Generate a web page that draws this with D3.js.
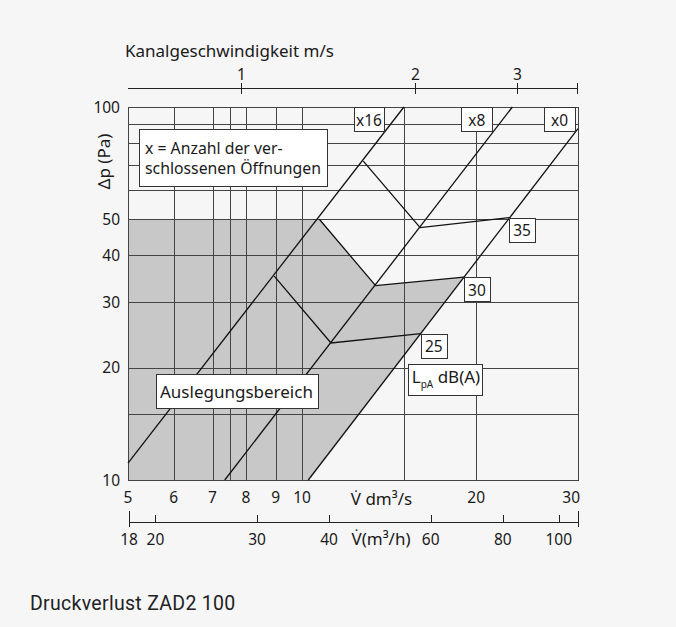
<!DOCTYPE html>
<html><head><meta charset="utf-8">
<script src="https://cdn.jsdelivr.net/npm/d3@7"></script>
<style>
html,body{margin:0;padding:0;background:#f6f6f6;}
svg{display:block;}
text{font-family:"Noto Sans",sans-serif;fill:#1a1a1a;}
</style></head><body>
<svg id="c" width="676" height="627"></svg>
<script>
// ---- data ----
const flowTicks = [5,6,7,8,9,10,20,30];            // dm³/s labels
const flowGrid = [6,7,7.5,8,9,10,15,20,30];         // vertical grid lines
const pressureTicks = [10,20,30,40,50,100];         // Pa labels
const pressureGrid = [15,20,30,40,50,60,70,80,90,100];
const velocityTicks = [1,2,3];                      // m/s
const hourlyTicks = [18,20,30,40,60,80,100];        // m³/h
const curveNames = ["x16","x8","x0"];
const curveX16 = [[5,11.1],[15.0,100]];
const curveX8 = [[7.35,10],[23.1,100]];
const curveX0 = [[10.25,10],[30,87.5]];
const soundNames = ["35","30","25"];
const sound35 = [[12.76,71.6],[16.0,47.5],[22.8,50.5]];
const sound30 = [[10.71,50],[13.4,33.2],[19.05,35.0]];
const sound25 = [[8.95,35.2],[11.22,23.3],[16.04,24.7]];
const designArea = [[5,10],[5,50],[10.71,50],[13.4,33.2],[19.05,35.0],[10.25,10]];
const ductFactor = 7.854; // dm³/s per m/s for DN100

(function(){
// ---- layout ----
const L=128, R=578, T=107, B=480;
const svg = d3.select("#c");
const x = d3.scaleLog().domain([5,30]).range([L,R]);
const y = d3.scaleLog().domain([10,100]).range([B,T]);
const xv = d3.scaleLog().domain([5/ductFactor,30/ductFactor]).range([L,R]);
const xh = d3.scaleLog().domain([18,108]).range([L+1,R]);
const line = d3.line().x(d=>x(d[0])).y(d=>y(d[1]));
const px = v => Math.round(v)+0.5;

svg.append("rect").attr("width",676).attr("height",627).attr("fill","#f6f6f6");

// shaded design area
svg.append("path").attr("d", line(designArea)+"Z").attr("fill","#c8c8c8");

// grid
const g = svg.append("g").attr("stroke","#444").attr("stroke-width",1);
g.selectAll(".vg").data(flowGrid).join("line")
  .attr("x1",d=>px(x(d))).attr("x2",d=>px(x(d))).attr("y1",T).attr("y2",B);
g.selectAll(".hg").data(pressureGrid).join("line")
  .attr("y1",d=>px(y(d))).attr("y2",d=>px(y(d))).attr("x1",L).attr("x2",R);
g.append("rect").attr("x",px(L)).attr("y",px(T)).attr("width",R-L).attr("height",B-T).attr("fill","none");

// curves
const curves = [curveX16, curveX8, curveX0];
svg.append("g").selectAll("path").data(curves).join("path")
  .attr("d",line).attr("fill","none").attr("stroke","#111").attr("stroke-width",1.3);
const sounds = [sound35, sound30, sound25];
svg.append("g").selectAll("path").data(sounds).join("path")
  .attr("d",line).attr("fill","none").attr("stroke","#111").attr("stroke-width",1.3);

// helper: label box
function box(x0,y0,w,h){
  svg.append("rect").attr("x",px(x0)).attr("y",px(y0)).attr("width",Math.round(w)).attr("height",Math.round(h))
    .attr("fill","#fff").attr("stroke","#333").attr("stroke-width",1);
}
const numFont = "15.5px", wordFont = "17px", boxFont = "15.8px";

// curve labels at top
curves.forEach((c,i)=>{
  const last = c[c.length-1];
  const right = i===2 ? R-3 : x(last[0])-20;
  const w = i===0 ? 30 : 31;
  box(right-w, T, w, 24);
  svg.append("text").attr("x",right-w/2).attr("y",T+18.5).attr("text-anchor","middle")
    .style("font-size",numFont).text(curveNames[i]);
});

// sound labels
sounds.forEach((s,i)=>{
  const e = s[s.length-1];
  box(x(e[0]), y(e[1]), 26, 24);
  svg.append("text").attr("x",x(e[0])+13).attr("y",y(e[1])+18.5).attr("text-anchor","middle")
    .style("font-size",numFont).text(soundNames[i]);
});

// LpA box
{
  const e = sound25[sound25.length-1];
  const bx = x(e[0])-13, by = y(e[1])+30;
  box(bx, by, 74, 31);
  const t = svg.append("text").attr("x",bx+4).attr("y",by+19.5).style("font-size",wordFont);
  t.append("tspan").text("L");
  t.append("tspan").attr("dy",5).style("font-size","10px").text("pA");
  t.append("tspan").attr("dy",-5).text(" dB(A)");
}

// info box
box(139, 129, 188, 57);
svg.append("text").attr("x",145).attr("y",153.5).style("font-size",boxFont).text("x = Anzahl der ver-");
svg.append("text").attr("x",145).attr("y",174).style("font-size",boxFont).text("schlossenen Öffnungen");

// design area label
box(155.5, 374, 162, 34);
svg.append("text").attr("x",160).attr("y",397.5).style("font-size",wordFont).text("Auslegungsbereich");

// y axis labels
svg.append("g").selectAll("text").data(pressureTicks).join("text")
  .attr("x",120).attr("y",d=>y(d)+5.5).attr("text-anchor","end").style("font-size",numFont).text(d=>d);
svg.append("text").attr("transform","translate(110,161.5) rotate(-90)").attr("text-anchor","middle")
  .style("font-size",wordFont).text("Δp (Pa)");

// x axis labels (dm³/s)
svg.append("g").selectAll("text").data(flowTicks).join("text")
  .attr("x",(d,i)=> i===flowTicks.length-1 ? x(d)+2 : x(d))
  .attr("y",502.5).attr("text-anchor",(d,i)=> i===flowTicks.length-1 ? "end" : "middle")
  .style("font-size",numFont).text(d=>d);
svg.append("text").attr("x",381.5).attr("y",505).attr("text-anchor","middle").style("font-size",wordFont).text("V̇ dm³/s");

// top axis (velocity)
const ty = 88.5;
const topAxis = svg.append("g").attr("stroke","#222").attr("stroke-width",1);
topAxis.append("line").attr("x1",L).attr("x2",R-1).attr("y1",ty).attr("y2",ty);
topAxis.selectAll(".t").data(velocityTicks.concat([30/ductFactor])).join("line")
  .attr("x1",d=>px(xv(d)-(d>3.5?1.5:0))).attr("x2",d=>px(xv(d)-(d>3.5?1.5:0))).attr("y1",ty-5.5).attr("y2",ty+5.5);
svg.append("g").selectAll("text").data(velocityTicks).join("text")
  .attr("x",d=>xv(d)).attr("y",79.5).attr("text-anchor","middle").style("font-size",numFont).text(d=>d);
svg.append("text").attr("x",125).attr("y",57).style("font-size",wordFont).text("Kanalgeschwindigkeit m/s");

// bottom axis m³/h
const by2 = 522.5;
const bot = svg.append("g").attr("stroke","#222").attr("stroke-width",1);
bot.append("line").attr("x1",xh(18)).attr("x2",xh(108)).attr("y1",by2).attr("y2",by2);
bot.selectAll(".t").data(hourlyTicks.concat([108])).join("line")
  .attr("x1",d=>px(xh(d))).attr("x2",d=>px(xh(d)))
  .attr("y1",d=> (d===18||d===108) ? 511 : 515).attr("y2",d=> (d===18||d===108) ? 527 : by2);
svg.append("g").selectAll("text").data(hourlyTicks).join("text")
  .attr("x",d=>xh(d)).attr("y",544.5).attr("text-anchor","middle").style("font-size",numFont).text(d=>d);
svg.append("text").attr("x",381).attr("y",544.5).attr("text-anchor","middle").style("font-size",wordFont).text("V̇(m³/h)");

// title
svg.append("text").attr("x",30).attr("y",609.5).style("font-family","Roboto, sans-serif")
  .style("font-size","19.5px").style("letter-spacing","0.3px").style("fill","#222").text("Druckverlust ZAD2 100");
})();
</script>
</body></html>
